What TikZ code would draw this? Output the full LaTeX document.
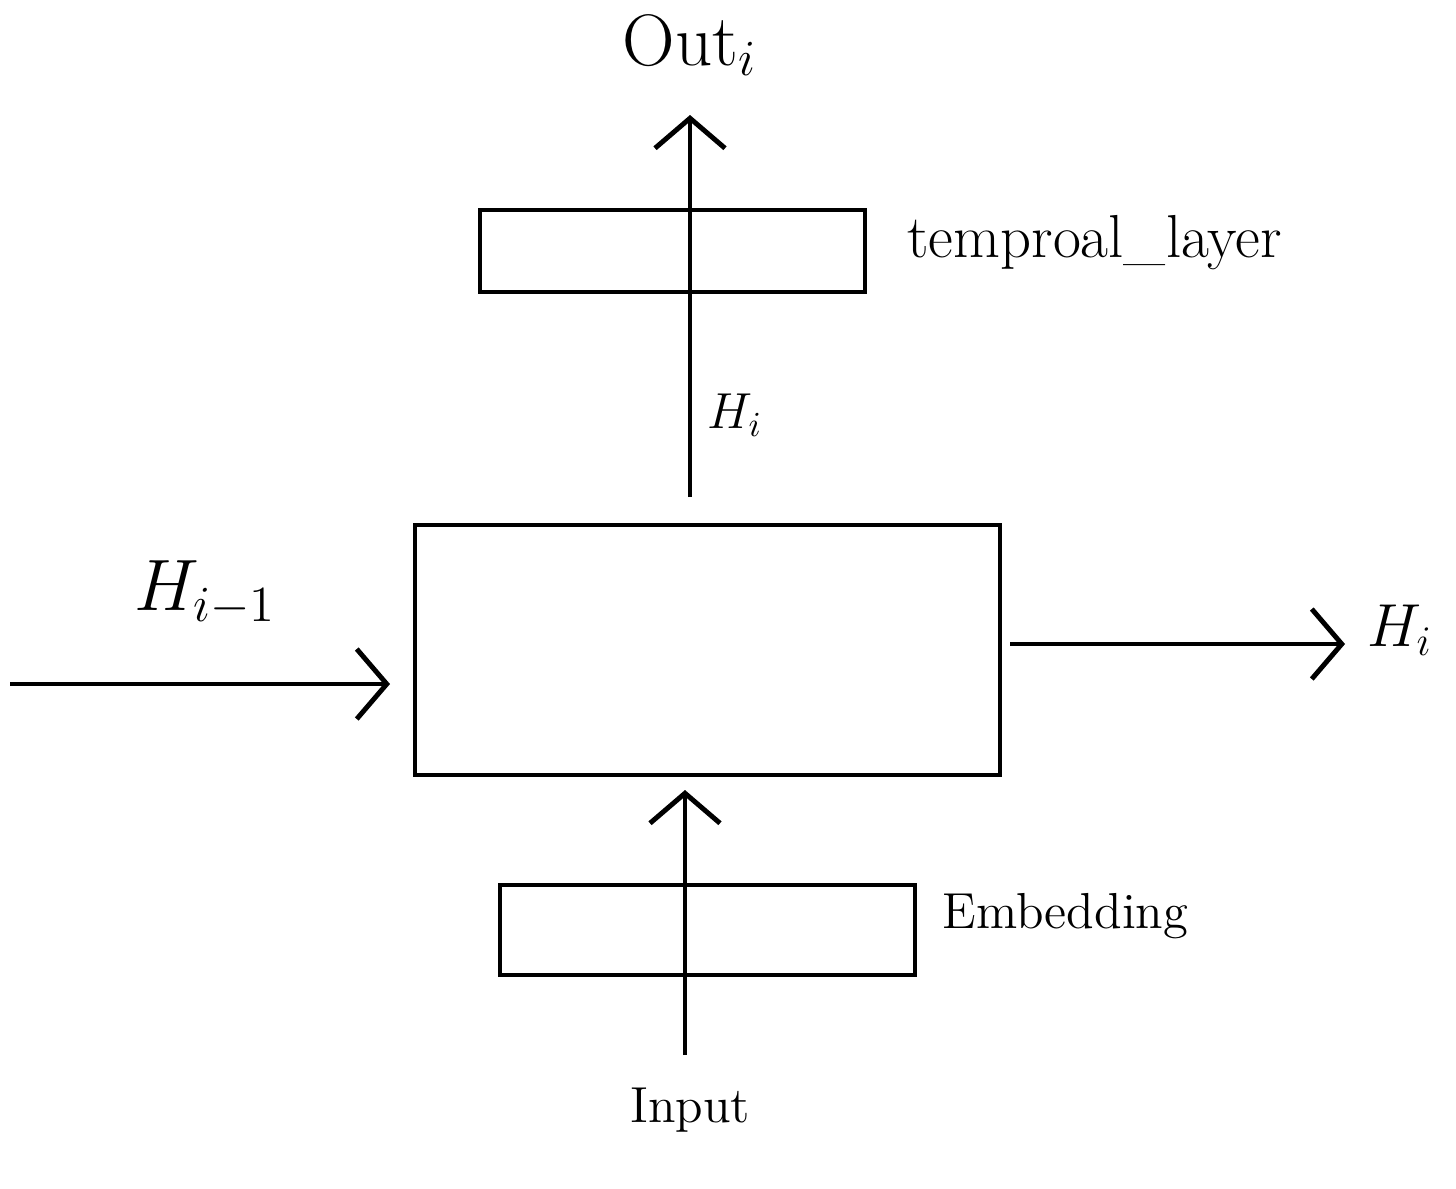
\documentclass[tikz,border=0pt]{standalone}
\usetikzlibrary{arrows.meta}
\tikzset{
    box/.style={draw, line width=1.4pt, inner sep=0pt},
    flow/.style={line width=1.4pt, -{Straight Barb[length=3mm,width=7mm,line width=1.4pt]}},
}
\begin{document}
\begin{tikzpicture}
    \useasboundingbox (0,0) rectangle (14.56,11.88);
    % boxes
    \node[box, minimum width=5.85cm, minimum height=2.5cm] (cell) at (7.075,5.38) {};
    \node[box, minimum width=3.85cm, minimum height=0.82cm] (tlayer) at (6.725,9.37) {};
    \node[box, minimum width=4.15cm, minimum height=0.9cm] (embed) at (7.075,2.58) {};
    % labels
    \node (out) at (6.9,11.43) {\huge Out$_i$};
    \node (hmid) at (7.35,7.73) {\Large $H_i$};
    \node[anchor=west] (tname) at (8.95,9.45) {\LARGE temproal\_layer};
    \node[anchor=west] (ename) at (9.3,2.72) {\Large Embedding};
    \node (input) at (6.9,0.78) {\Large Input};
    \node (hprev) at (2.05,5.95) {\huge $H_{i-1}$};
    \node (hnext) at (14.0,5.58) {\LARGE $H_i$};
    % arrow ends
    \coordinate (upfrom) at (6.9,6.91);
    \coordinate (upto) at (6.9,10.73);
    \coordinate (infrom) at (6.85,1.33);
    \coordinate (into) at (6.85,3.98);
    \coordinate (lfrom) at (0.1,5.04);
    \coordinate (lto) at (3.9,5.04);
    \coordinate (rfrom) at (10.1,5.44);
    \coordinate (rto) at (13.45,5.44);
    \draw[flow] (upfrom) -- (upto);
    \draw[flow] (infrom) -- (into);
    \draw[flow] (lfrom) -- (lto);
    \draw[flow] (rfrom) -- (rto);
\end{tikzpicture}
\end{document}
